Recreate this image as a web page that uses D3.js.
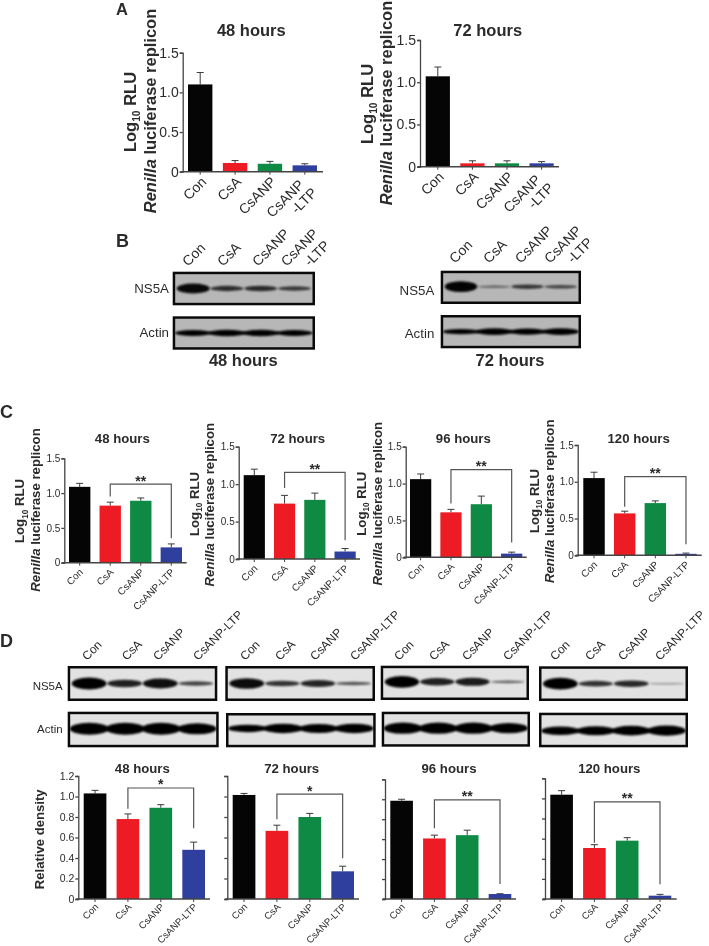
<!DOCTYPE html>
<html><head><meta charset="utf-8">
<script src="https://cdnjs.cloudflare.com/ajax/libs/d3/7.8.5/d3.min.js"></script>
<style>
html,body{margin:0;padding:0;background:#fff}
svg{display:block;filter:blur(0.3px)}
text{font-family:"Liberation Sans",Arial,sans-serif;fill:#2b2b2b}
.tick line,.domain{stroke:#444}
</style></head><body>
<svg id="c" width="709" height="946"></svg>
<script>
// ---- DATA ----
const categories = ["Con","CsA","CsANP","CsANP-LTP"];
const categoriesA = ["Con","CsA","CsANP","CsANP\n-LTP"];
const ticks15 = [0,0.5,1.0,1.5];
const ticks12 = [0,0.2,0.4,0.6,0.8,1.0,1.2];

const a48 = [1.10,0.11,0.10,0.08],  a48Err = [1.25,0.14,0.13,0.10];
const a72 = [1.07,0.04,0.04,0.04],  a72Err = [1.18,0.07,0.07,0.06];

const c48 = [1.09,0.82,0.89,0.22],  c48Err = [1.14,0.87,0.93,0.27];
const c72 = [1.12,0.74,0.79,0.10],  c72Err = [1.20,0.85,0.88,0.14];
const c96 = [1.06,0.61,0.72,0.05],  c96Err = [1.13,0.65,0.83,0.07];
const c120 = [1.05,0.57,0.71,0.02], c120Err = [1.13,0.60,0.74,0.03];

const d48 = [1.03,0.78,0.89,0.48],  d48Err = [1.06,0.83,0.92,0.555];
const d72 = [1.015,0.665,0.80,0.27],d72Err = [1.03,0.72,0.835,0.32];
const d96 = [0.985,0.607,0.64,0.05],d96Err = [1.00,0.64,0.69,0.053];
const d120 = [1.037,0.507,0.58,0.033],d120Err = [1.077,0.54,0.61,0.046];

// significance brackets: [top, left leg end, right leg end] in axis units
const c48Br=[1.13,0.95,0.35], c72Br=[1.157,0.95,0.25], c96Br=[1.19,0.73,0.20], c120Br=[1.07,0.66,0.15];
const d48Br=[1.083,0.88,0.69], d72Br=[1.024,0.777,0.397], d96Br=[0.993,0.71,0.15], d120Br=[0.965,0.56,0.146];

// blot band strengths per lane
const bNs48=[0.85,0.4,0.42,0.3],   bAc48=[0.45,0.5,0.5,0.45];
const bNs72=[0.95,0.1,0.32,0.22],  bAc72=[0.4,0.55,0.5,0.55];
const dNs48=[1,0.6,0.8,0.3],       dAc48=[1,1,1,0.9];
const dNs72=[0.85,0.42,0.55,0.2],  dAc72=[0.6,0.8,0.75,0.8];
const dNs96=[1,0.6,0.65,0.14],     dAc96=[0.95,0.95,0.95,0.85];
const dNs120=[1,0.42,0.5,0.03],    dAc120=[0.7,0.75,0.8,0.85];

const colors = ["#050505","#ed1c24","#0f8a45","#2e3f9e"];

// ---- LAYOUT ----
const svg = d3.select("#c");
const defs = svg.append("defs");
defs.append("filter").attr("id","blur").attr("x","-20%").attr("y","-100%").attr("width","140%").attr("height","300%")
  .append("feGaussianBlur").attr("stdDeviation",0.9);

function logLabel(x,cy,size){
  const t = svg.append("text").attr("transform",`translate(${x},${cy}) rotate(-90)`)
    .attr("text-anchor","middle").attr("font-weight","bold").attr("font-size",size);
  t.append("tspan").text("Log");
  t.append("tspan").attr("font-size",size*0.62).attr("dy",size*0.25).text("10");
  t.append("tspan").attr("dy",-size*0.25).text(" RLU");
}
function renillaLabel(x,cy,size){
  const t = svg.append("text").attr("transform",`translate(${x},${cy}) rotate(-90)`)
    .attr("text-anchor","middle").attr("font-weight","bold").attr("font-size",size);
  t.append("tspan").attr("font-style","italic").text("Renilla");
  t.append("tspan").text(" luciferase replicon");
}
function label(x,y,s,size,weight,anchor){
  svg.append("text").attr("x",x).attr("y",y).attr("font-size",size)
    .attr("font-weight",weight||"normal").attr("text-anchor",anchor||"middle").text(s);
}

function barPanel(o){
  const g = svg.append("g");
  const y = d3.scaleLinear().domain([0,o.max]).range([o.y0,o.y1]);
  const x = d3.scaleBand().domain(o.cats).range([o.b0,o.b1]).paddingInner(o.pad).paddingOuter(0);
  g.selectAll(".stem").data(o.vals).join("line")
    .attr("x1",(d,i)=>x(o.cats[i])+x.bandwidth()/2).attr("x2",(d,i)=>x(o.cats[i])+x.bandwidth()/2)
    .attr("y1",d=>y(d)).attr("y2",(d,i)=>y(o.errs[i])).attr("stroke","#3a3a3a").attr("stroke-width",1);
  g.selectAll(".cap").data(o.errs).join("line")
    .attr("x1",(d,i)=>x(o.cats[i])+x.bandwidth()/2-3.5).attr("x2",(d,i)=>x(o.cats[i])+x.bandwidth()/2+3.5)
    .attr("y1",d=>y(d)).attr("y2",d=>y(d)).attr("stroke","#3a3a3a").attr("stroke-width",1);
  g.selectAll(".bar").data(o.vals).join("rect")
    .attr("x",(d,i)=>x(o.cats[i])).attr("width",x.bandwidth())
    .attr("y",d=>y(d)).attr("height",d=>y(0)-y(d)).attr("fill",(d,i)=>colors[i]);
  // y axis
  const ya = d3.axisLeft(y).tickValues(o.ticks).tickSizeOuter(0).tickSize(3).tickPadding(1)
    .tickFormat(o.noLabels?"":(d=>d===0?"0":d.toFixed(1)));
  const yg = g.append("g").attr("transform",`translate(${o.ax},0)`).call(ya);
  yg.selectAll("text").attr("font-size",o.tickSize).style("font-family",'"Liberation Sans"');
  yg.selectAll(".domain,.tick line").attr("stroke","#444").attr("stroke-width",1.3);
  // x axis
  const xa = d3.axisBottom(x).tickSize(3).tickSizeOuter(0).tickFormat("");
  const xg = g.append("g").attr("transform",`translate(0,${o.y0})`).call(xa);
  xg.select(".domain").remove();
  xg.selectAll(".tick line").attr("stroke","#444");
  g.append("line").attr("x1",o.ax-2).attr("x2",o.xEnd).attr("y1",o.y0).attr("y2",o.y0)
    .attr("stroke","#444").attr("stroke-width",1.4);
  // category labels
  o.cats.forEach(c=>{
    const cx = x(c)+x.bandwidth()/2;
    const parts = c.split("\n");
    if(parts.length===1){
      g.append("text").attr("transform",`translate(${cx+o.ldx},${o.y0+o.ldy}) rotate(-45)`)
        .attr("text-anchor","end").attr("font-size",o.catSize).text(c);
    } else {
      g.append("text").attr("transform",`translate(${cx},${o.y0+14}) rotate(-45)`)
        .attr("text-anchor","end").attr("font-size",o.catSize).text(parts[0]);
      g.append("text").attr("transform",`translate(${cx+13},${o.y0+22}) rotate(-45)`)
        .attr("text-anchor","end").attr("font-size",o.catSize).text(parts[1]);
    }
  });
  // bracket
  if(o.br){
    const xl = x(o.cats[1])+x.bandwidth()/2, xr = x(o.cats[3])+x.bandwidth()/2;
    const path = d3.path();
    path.moveTo(xl,y(o.br[1])); path.lineTo(xl,y(o.br[0])); path.lineTo(xr,y(o.br[0])); path.lineTo(xr,y(o.br[2]));
    g.append("path").attr("d",path.toString()).attr("fill","none").attr("stroke","#555").attr("stroke-width",1.2);
    g.append("text").attr("x",(xl+xr)/2).attr("y",y(o.br[0])+1.5).attr("text-anchor","middle")
      .attr("font-size",14).attr("font-weight","bold").text(o.star);
  }
}

function blot(o){
  const g = svg.append("g");
  const w=o.x1-o.x0,h=o.y1-o.y0;
  g.append("rect").attr("x",o.x0+1.25).attr("y",o.y0+1.25).attr("width",w-2.5).attr("height",h-2.5)
    .attr("fill",o.bg).attr("stroke","#0a0a0a").attr("stroke-width",2.5);
  const lanes = d3.scaleBand().domain(d3.range(o.vals.length)).range([o.x0+4,o.x1-4]).paddingInner(0.02);
  const thick = d3.scaleLinear().domain([0,1]).range([0.6,h*0.17]);
  const alpha = d3.scalePow().exponent(0.3).domain([0,1]).range([0.03,1]);
  g.selectAll("ellipse").data(o.vals).join("ellipse")
    .attr("cx",(d,i)=>lanes(i)+lanes.bandwidth()/2).attr("cy",o.y0+h*(o.cyf||0.5))
    .attr("rx",lanes.bandwidth()/2+(o.solid?2:0)).attr("ry",d=>thick(d))
    .attr("fill","#000").attr("fill-opacity",d=>o.solid?1:alpha(d)).attr("filter","url(#blur)");
}

function blotCats(xs,y,size,names){
  names.forEach((n,i)=>{
    svg.append("text").attr("transform",`translate(${xs[i]},${y}) rotate(-45)`)
      .attr("font-size",size).text(n);
  });
}

const base15 = {max:1.5,ticks:ticks15};
const baseA = {...base15,cats:categoriesA,pad:0.3,tickSize:14,catSize:14,ldx:7,ldy:11};
const baseC = {...base15,cats:categories,pad:0.3,tickSize:10,catSize:10,ldx:4,ldy:10,star:"**"};
const baseD = {max:1.2,ticks:ticks12,cats:categories,pad:0.31,tickSize:10.5,catSize:9.6,ldx:4,ldy:8.5};

// Panel A
barPanel({...baseA,vals:a48,errs:a48Err,ax:182.7,y0:171.7,y1:52.7,b0:188,b1:317,xEnd:323});
barPanel({...baseA,vals:a72,errs:a72Err,ax:420,y0:166.7,y1:40,b0:425.7,b1:553.7,xEnd:559});
// Panel C
barPanel({...baseC,vals:c48,errs:c48Err,br:c48Br,ax:64.3,y0:562.7,y1:458.3,b0:69,b1:182,xEnd:186.7});
barPanel({...baseC,vals:c72,errs:c72Err,br:c72Br,ax:238.7,y0:559,y1:446.7,b0:243.7,b1:355.7,xEnd:360});
barPanel({...baseC,vals:c96,errs:c96Err,br:c96Br,ax:405.7,y0:557.3,y1:446.7,b0:410,b1:522.3,xEnd:526.7});
barPanel({...baseC,vals:c120,errs:c120Err,br:c120Br,ax:577.7,y0:555.3,y1:445,b0:583.3,b1:696.7,xEnd:701.7});
// Panel D
barPanel({...baseD,vals:d48,errs:d48Err,br:d48Br,star:"*",ax:78.3,y0:899,y1:776,b0:83.7,b1:205,xEnd:210});
barPanel({...baseD,vals:d72,errs:d72Err,br:d72Br,star:"*",noLabels:true,ax:227.3,y0:899,y1:776,b0:232.7,b1:354,xEnd:359});
barPanel({...baseD,vals:d96,errs:d96Err,br:d96Br,star:"**",noLabels:true,ax:385,y0:899,y1:779.3,b0:390.3,b1:511.3,xEnd:516});
barPanel({...baseD,vals:d120,errs:d120Err,br:d120Br,star:"**",noLabels:true,ax:545,y0:899,y1:778.3,b0:550.3,b1:671.3,xEnd:676.7});

// Blots B
const bg1="#b7b7b7", bg2="#e2e2e2";
blot({x0:172.7,x1:315,y0:271.7,y1:305.3,vals:bNs48,bg:bg1});
blot({x0:172.7,x1:315,y0:316.3,y1:349.7,vals:bAc48,bg:bg1,solid:true});
blot({x0:440.7,x1:581,y0:270.7,y1:304,vals:bNs72,bg:bg1,cyf:0.48});
blot({x0:440.7,x1:581,y0:315,y1:348.3,vals:bAc72,bg:bg1,solid:true});
// Blots D
blot({x0:67.7,x1:217.3,y0:666,y1:701,vals:dNs48,bg:bg2});
blot({x0:67.7,x1:218.7,y0:711.7,y1:747.3,vals:dAc48,bg:bg2,cyf:0.48,solid:true});
blot({x0:225.3,x1:375,y0:666,y1:701,vals:dNs72,bg:bg2});
blot({x0:226,x1:375.7,y0:713,y1:747.3,vals:dAc72,bg:bg2,cyf:0.45,solid:true});
blot({x0:380.7,x1:529,y0:665.7,y1:700,vals:dNs96,bg:bg2,cyf:0.47});
blot({x0:381.7,x1:530,y0:711.7,y1:746.7,vals:dAc96,bg:bg2,cyf:0.47,solid:true});
blot({x0:539,x1:688,y0:666.3,y1:701,vals:dNs120,bg:bg2,cyf:0.5});
blot({x0:539,x1:688,y0:712.7,y1:747.3,vals:dAc120,bg:bg2,cyf:0.52,solid:true});

const bn=["Con","CsA","CsANP","CsANP","-LTP"];
blotCats([188,223,258,286.7,310],267,14,bn);
blotCats([455,489,520.7,550,573],264,14,bn);
[[87,126.7,158,198],[245,280,315,355],[399,434,467,508],[555,590,623,660]]
  .forEach(xs=>blotCats(xs,661,12,categories));

label(169,292.7,"NS5A",13.3,"normal","end");
label(169,336.7,"Actin",13.3,"normal","end");
label(434.3,295,"NS5A",13.3,"normal","end");
label(434.3,338.3,"Actin",13.3,"normal","end");
label(62.7,690,"NS5A",11.5,"normal","end");
label(62.7,733,"Actin",11.5,"normal","end");

// Titles
label(251.3,35.7,"48 hours",16.5,"bold");
label(487.7,35.7,"72 hours",16.5,"bold");
label(243.3,366,"48 hours",16.5,"bold");
label(510,366,"72 hours",16.5,"bold");
[[122.3,"48 hours"],[297.7,"72 hours"],[463.3,"96 hours"],[638.7,"120 hours"]].forEach(t=>label(t[0],443.3,t[1],13.2,"bold"));
[[142.3,"48 hours"],[291.7,"72 hours"],[449,"96 hours"],[609.3,"120 hours"]].forEach(t=>label(t[0],773.3,t[1],13.2,"bold"));

// Y labels
logLabel(136,112,16.5); renillaLabel(156,111,16.5);
logLabel(372.7,104,16.5); renillaLabel(391.7,103,16.5);
logLabel(24.3,511,13.2); renillaLabel(40,510,13.2);
logLabel(199,504,13.2); renillaLabel(214,504.7,13.2);
logLabel(366,503.7,13.2); renillaLabel(382.3,503.7,13.2);
logLabel(539,501,13.2); renillaLabel(554,501.3,13.2);
svg.append("text").attr("transform","translate(44.3,839.3) rotate(-90)").attr("text-anchor","middle")
  .attr("font-weight","bold").attr("font-size",13.1).text("Relative density");

// Panel letters
label(116,15,"A",16.5,"bold","start");
label(116,247,"B",18,"bold","start");
label(0,418,"C",18,"bold","start");
label(0,647,"D",18,"bold","start");
</script></body></html>
